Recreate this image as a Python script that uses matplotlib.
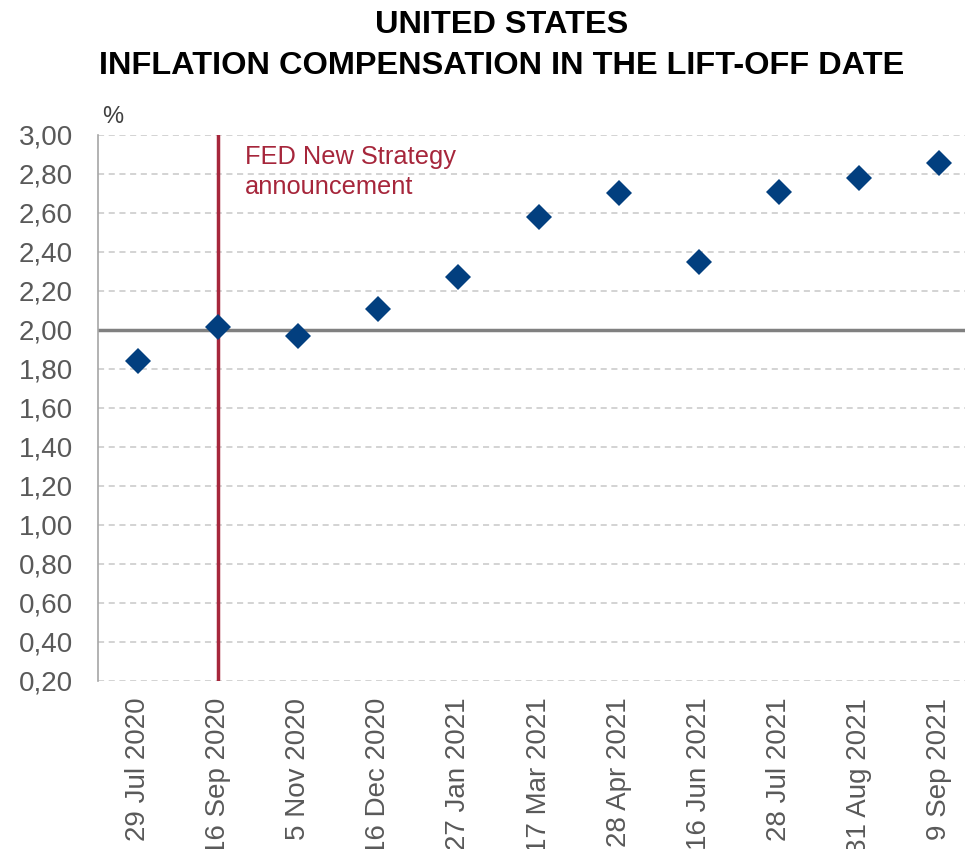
import matplotlib.pyplot as plt
import numpy as np

plt.rcParams['font.family'] = ['Liberation Sans', 'DejaVu Sans']

dates = ['29 Jul 2020', '16 Sep 2020', '5 Nov 2020', '16 Dec 2020', '27 Jan 2021',
         '17 Mar 2021', '28 Apr 2021', '16 Jun 2021', '28 Jul 2021', '31 Aug 2021',
         '9 Sep 2021']
compensation = [1.84, 2.015, 1.97, 2.11, 2.27, 2.58, 2.70, 2.35, 2.71, 2.78, 2.855]
yticks = [0.2, 0.4, 0.6, 0.8, 1.0, 1.2, 1.4, 1.6, 1.8, 2.0, 2.2, 2.4, 2.6, 2.8, 3.0]
event_idx = 1
event_label = 'FED New Strategy\nannouncement'

fig = plt.figure(figsize=(9.65, 8.49), dpi=100)
ax = fig.add_axes([0.1016, 0.198, 0.913, 0.643])

x = np.arange(len(dates))
ax.set_xlim(-0.5, len(dates) - 0.5)
ax.set_ylim(0.2, 3.0)

ax.set_yticks(yticks)
ax.set_yticklabels([f'{v:.2f}'.replace('.', ',') for v in yticks])
ax.grid(axis='y', color='#c8c8c8', linestyle=(0, (4, 3)), linewidth=1.1)
ax.set_axisbelow(True)

ax.axhline(2.0, color='#808080', linewidth=2.5, zorder=2)
ax.axvline(event_idx, color='#a6263b', linewidth=2.5, zorder=2)
ax.text(event_idx + 0.33, 2.95, event_label, color='#a6263b', fontsize=18.3,
        va='top', ha='left', linespacing=1.32)

ax.plot(x, compensation, 'D', color='#023f7f', markersize=13.5,
        markeredgewidth=0, zorder=3)

ax.set_xticks(x)
ax.set_xticklabels(dates, rotation=90, va='top', ha='center')
ax.tick_params(axis='both', length=0, labelsize=20, labelcolor='#595959')
ax.tick_params(axis='x', pad=12)
ax.tick_params(axis='y', pad=18)

for s in ['top', 'right', 'bottom']:
    ax.spines[s].set_visible(False)
ax.spines['left'].set_color('#a6a6a6')
ax.spines['left'].set_linewidth(1.2)

fig.text(0.106, 0.849, '%', fontsize=17, color='#404040', ha='left', va='bottom')
fig.text(0.52, 0.988, 'UNITED STATES\nINFLATION COMPENSATION IN THE LIFT-OFF DATE',
         fontsize=23.4, fontweight='bold', ha='center', va='top', linespacing=1.45)

fig.savefig('out.png', dpi=100)
